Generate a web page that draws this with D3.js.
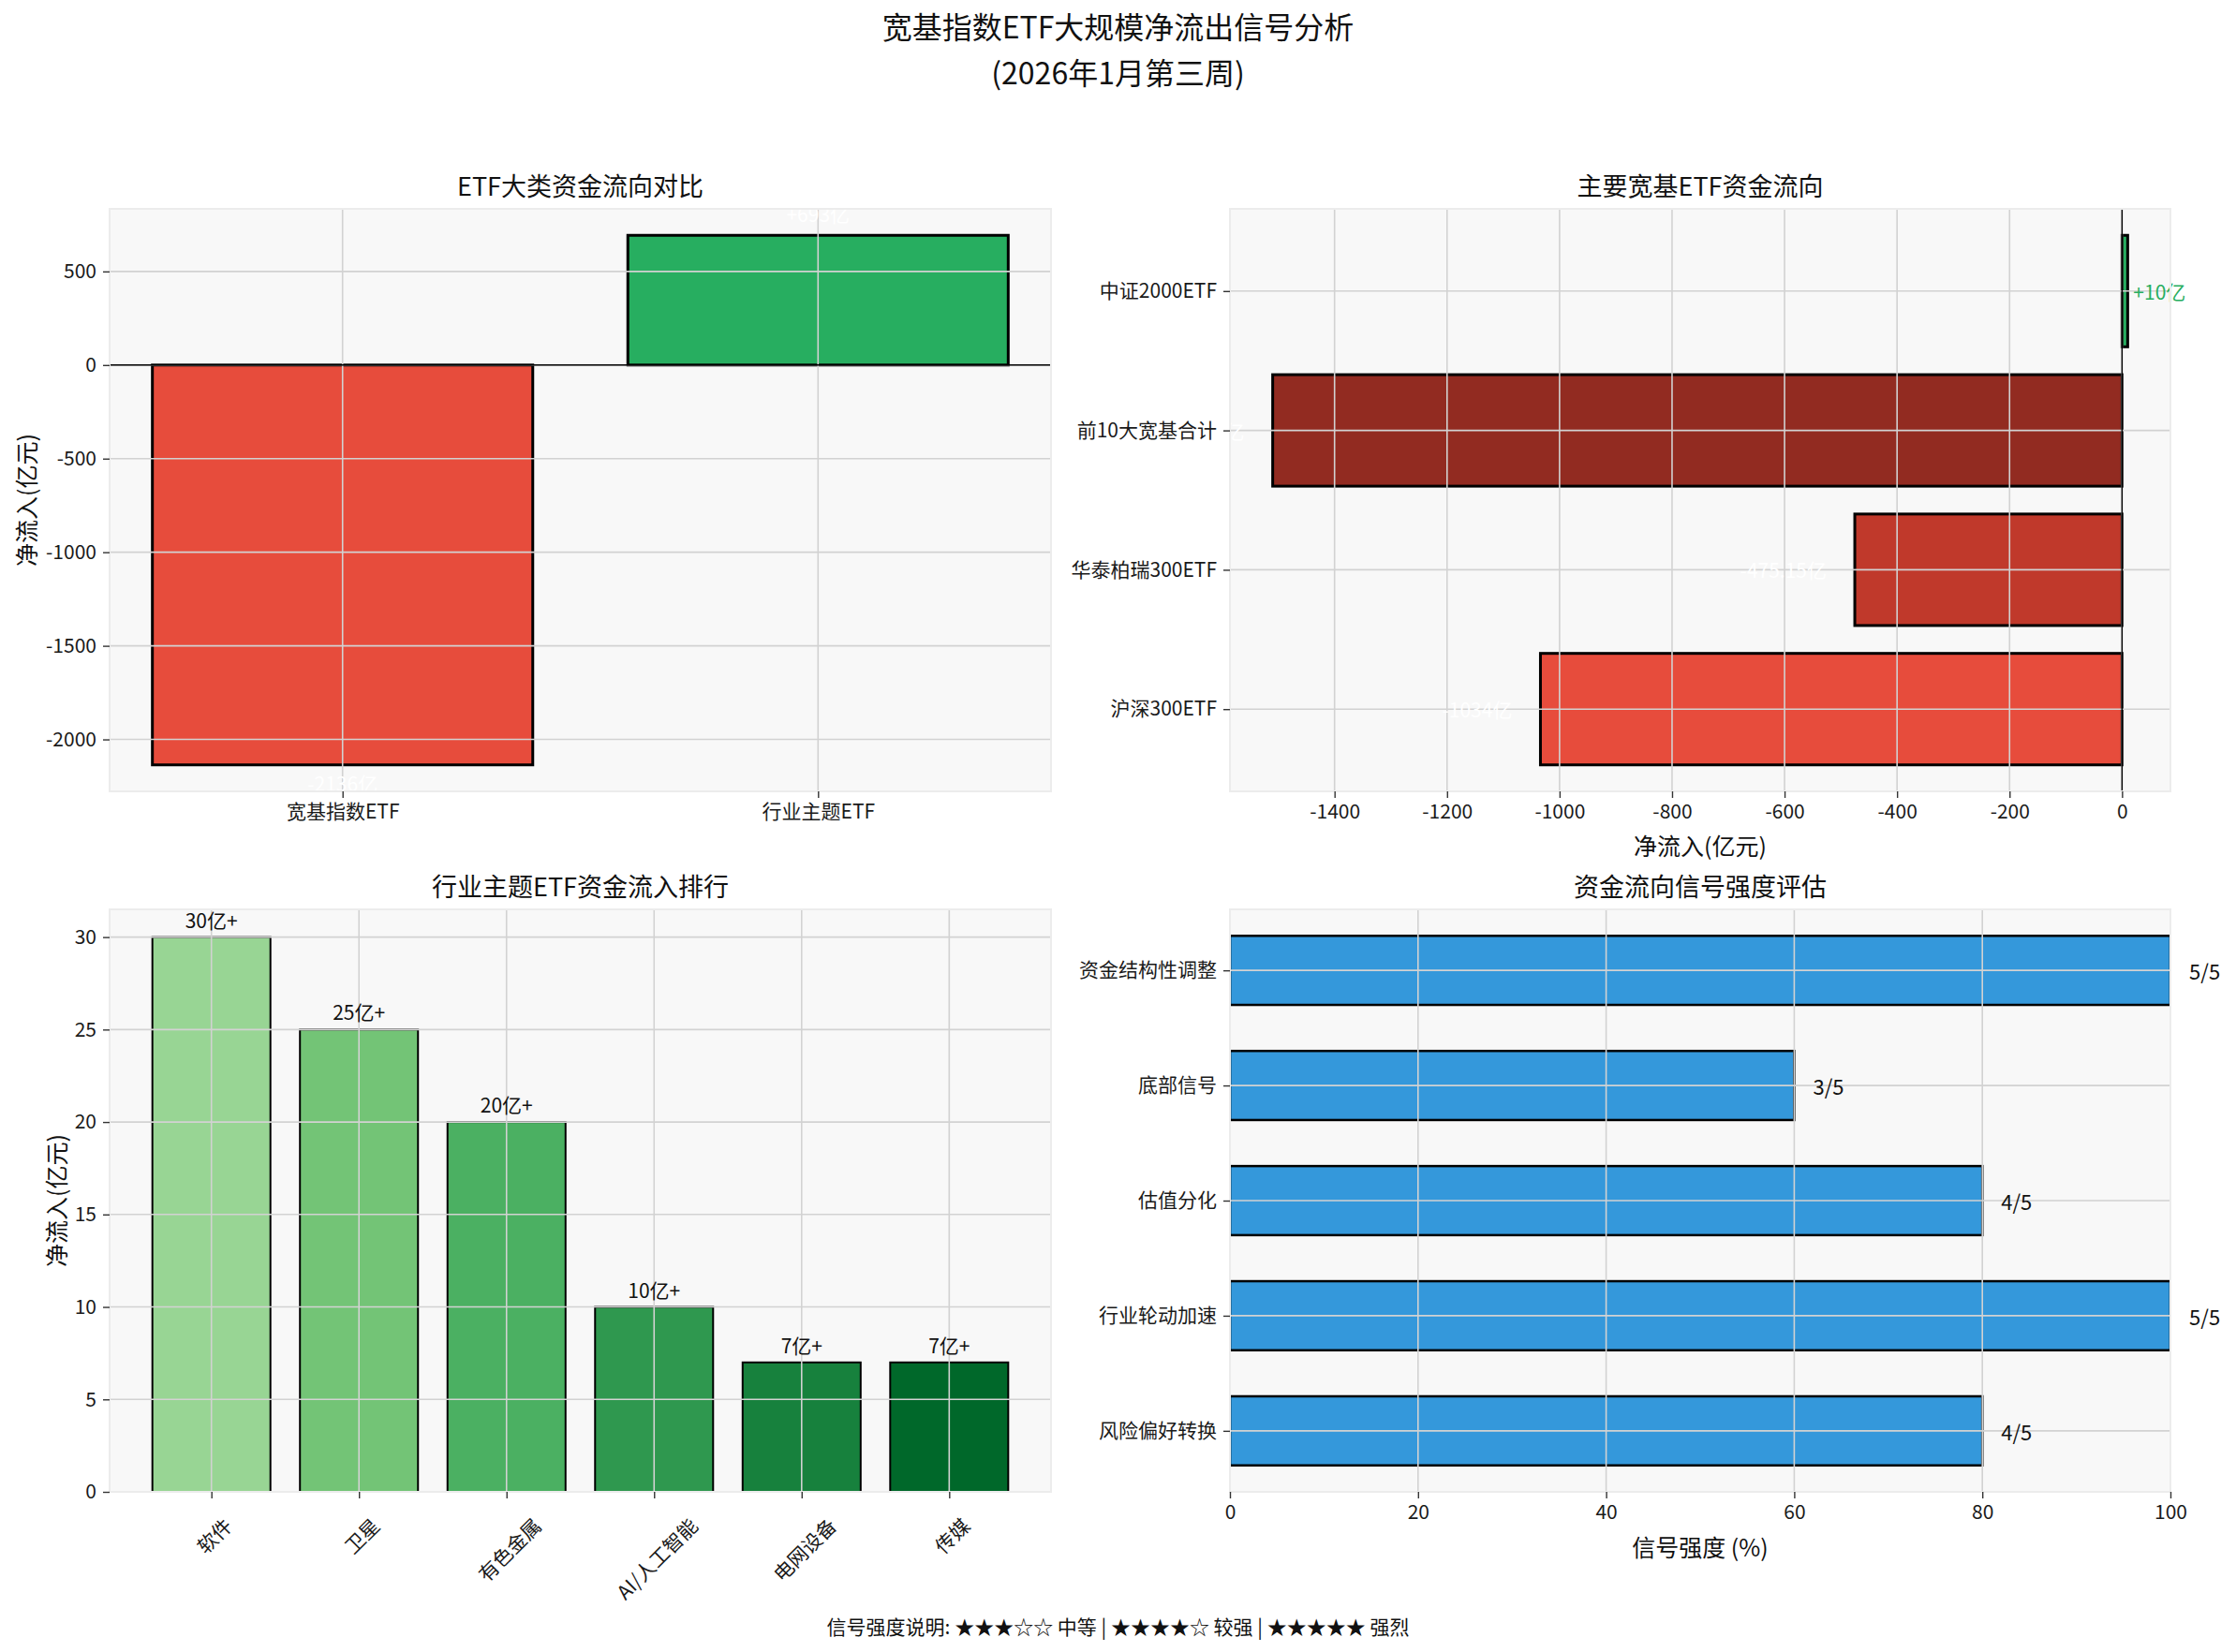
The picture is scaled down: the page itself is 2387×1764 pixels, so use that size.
<!DOCTYPE html>
<html>
<head>
<meta charset="utf-8">
<script src="https://cdn.jsdelivr.net/npm/d3@7"></script>
<style>
  html, body { margin: 0; padding: 0; background: #fff; }
  svg { display: block; font-family: "Noto Sans CJK SC", "Noto Sans", sans-serif; }
</style>
</head>
<body>
<div id="chart"></div>
<script>
// --- data ---
const mainCats= ['宽基指数ETF', '行业主题ETF'];
const mainFlow= [-2136, 693];
const mainLabels= ['-2136亿', '+693亿'];
const mainColors= ['#e74c3c', '#27ae60'];
const mainTicks= [-2000, -1500, -1000, -500, 0, 500];

const etfNames= ['沪深300ETF', '华泰柏瑞300ETF', '前10大宽基合计', '中证2000ETF'];
const etfFlow= [-1034, -475.15, -1510, 10];
const etfLabels= ['-1034亿', '-475.15亿', '-1510亿', '+10亿'];
const etfColors= ['#e74c3c', '#c0392b', '#922b21', '#27ae60'];
const etfTicks= [-1400, -1200, -1000, -800, -600, -400, -200, 0];

const sectors= ['软件', '卫星', '有色金属', 'AI/人工智能', '电网设备', '传媒'];
const sectorFlow= [30, 25, 20, 10, 7, 7];
const sectorLabels= ['30亿+', '25亿+', '20亿+', '10亿+', '7亿+', '7亿+'];
const sectorColors= ['#98d594', '#73c476', '#4bb062', '#2f984f', '#17813d', '#00682a'];
const sectorTicks= [0, 5, 10, 15, 20, 25, 30];

const signals= ['风险偏好转换', '行业轮动加速', '估值分化', '底部信号', '资金结构性调整'];
const signalPct= [80, 100, 80, 60, 100];
const signalLabels= ['4/5', '5/5', '4/5', '3/5', '5/5'];
const signalTicks= [0, 20, 40, 60, 80, 100];

const W= 2387, H= 1764;
const FONT_TICK= 21, FONT_LAB= 25, FONT_TITLE= 27;
const GRID= '#d2d2d2';

const svg= d3.select('#chart').append('svg')
  .attr('width', W).attr('height', H)
  .attr('viewBox', `0 0 ${W} ${H}`);

svg.append('rect').attr('width', W).attr('height', H).attr('fill', '#fff');

let clipN= 0;
function panel(x0, y0, w, h, title) {
  const g= svg.append('g').attr('transform', `translate(${x0},${y0})`);
  const id= 'clip' + (clipN++);
  g.append('clipPath').attr('id', id).append('rect').attr('width', w).attr('height', h);
  g.append('rect').attr('width', w).attr('height', h).attr('fill', '#f8f8f8');
  const body= g.append('g').attr('clip-path', `url(#${id})`);
  g.append('text')
    .attr('x', w/2).attr('y', -14)
    .attr('text-anchor', 'middle')
    .attr('font-size', FONT_TITLE)
    .attr('fill', '#111')
    .text(title);
  return { g, body, w, h };
}

function frame(p) {
  p.g.append('rect').attr('width', p.w).attr('height', p.h)
    .attr('fill', 'none').attr('stroke', '#ececec').attr('stroke-width', 2);
}

function gridX(p, xs, vals) {
  p.body.selectAll(null).data(vals).join('line')
    .attr('x1', d => xs(d)).attr('x2', d => xs(d))
    .attr('y1', 0).attr('y2', p.h)
    .attr('stroke', GRID).attr('stroke-width', 1.6);
}
function gridY(p, ys, vals) {
  p.body.selectAll(null).data(vals).join('line')
    .attr('y1', d => ys(d)).attr('y2', d => ys(d))
    .attr('x1', 0).attr('x2', p.w)
    .attr('stroke', GRID).attr('stroke-width', 1.6);
}

function styleAxis(sel) {
  sel.select('.domain').remove();
  sel.selectAll('.tick line').attr('stroke', '#333').attr('stroke-width', 1.4);
  sel.selectAll('.tick text')
    .attr('font-size', FONT_TICK)
    .attr('fill', '#1a1a1a')
    .attr('font-family', '"Noto Sans CJK SC", sans-serif');
}

function padDomain(vals) {
  const [lo, hi]= d3.extent(vals);
  const m= (hi-lo)*0.05;
  return [lo-m, hi+m];
}

const fmt= d => String(d);

// ---------- panel 1: ETF大类资金流向对比 ----------
{
  const p= panel(117, 223, 1005, 622, 'ETF大类资金流向对比');
  const idx= d3.range(mainCats.length);
  const x= d3.scaleLinear().domain(padDomain([-0.4, mainCats.length-1+0.4])).range([0, p.w]);
  const y= d3.scaleLinear().domain(padDomain([...mainFlow, 0])).range([p.h, 0]);

  p.body.selectAll('rect.bar').data(idx).join('rect')
    .attr('class', 'bar')
    .attr('x', i => x(i-0.4))
    .attr('width', i => x(i+0.4)-x(i-0.4))
    .attr('y', i => y(Math.max(0, mainFlow[i])))
    .attr('height', i => Math.abs(y(mainFlow[i])-y(0)))
    .attr('fill', i => mainColors[i])
    .attr('stroke', '#000').attr('stroke-width', 3);

  gridX(p, x, idx);
  gridY(p, y, mainTicks);

  p.body.append('line')
    .attr('x1', 0).attr('x2', p.w).attr('y1', y(0)).attr('y2', y(0))
    .attr('stroke', '#000').attr('stroke-width', 1.4);

  p.g.selectAll('text.val').data(idx).join('text')
    .attr('class', 'val')
    .attr('x', i => x(i))
    .attr('y', i => mainFlow[i] >= 0 ? y(mainFlow[i]+50)-4 : y(mainFlow[i]-50)+18)
    .attr('text-anchor', 'middle')
    .attr('font-size', FONT_TICK)
    .attr('fill', '#fff')
    .text(i => mainLabels[i]);

  frame(p);

  p.g.append('g').call(d3.axisLeft(y).tickValues(mainTicks).tickFormat(fmt).tickSize(7).tickPadding(7))
    .call(styleAxis);
  p.g.append('g').attr('transform', `translate(0,${p.h})`)
    .call(d3.axisBottom(x).tickValues(idx).tickFormat(i => mainCats[i]).tickSize(7).tickPadding(7))
    .call(styleAxis);

  p.g.append('text')
    .attr('transform', `translate(${27-117},${p.h/2}) rotate(-90)`)
    .attr('text-anchor', 'middle').attr('dominant-baseline', 'central')
    .attr('font-size', FONT_LAB).attr('fill', '#111')
    .text('净流入(亿元)');
}

// ---------- panel 2: 主要宽基ETF资金流向 ----------
{
  const p= panel(1313, 223, 1004, 622, '主要宽基ETF资金流向');
  const idx= d3.range(etfNames.length);
  const x= d3.scaleLinear().domain(padDomain([...etfFlow, 0])).range([0, p.w]);
  const y= d3.scaleLinear().domain(padDomain([-0.4, etfNames.length-1+0.4])).range([p.h, 0]);

  p.body.selectAll('rect.bar').data(idx).join('rect')
    .attr('class', 'bar')
    .attr('y', i => y(i+0.4))
    .attr('height', i => y(i-0.4)-y(i+0.4))
    .attr('x', i => x(Math.min(0, etfFlow[i])))
    .attr('width', i => Math.abs(x(etfFlow[i])-x(0)))
    .attr('fill', i => etfColors[i])
    .attr('stroke', '#000').attr('stroke-width', 3);

  gridX(p, x, etfTicks);
  gridY(p, y, idx);

  p.body.append('line')
    .attr('y1', 0).attr('y2', p.h).attr('x1', x(0)).attr('x2', x(0))
    .attr('stroke', '#000').attr('stroke-width', 1.4);

  p.g.selectAll('text.val').data(idx).join('text')
    .attr('class', 'val')
    .attr('x', i => etfFlow[i] >= 0 ? x(etfFlow[i]+10) : x(etfFlow[i]-50))
    .attr('y', i => y(i))
    .attr('text-anchor', i => etfFlow[i] >= 0 ? 'start' : 'end')
    .attr('dominant-baseline', 'central')
    .attr('font-size', FONT_TICK)
    .attr('fill', i => etfFlow[i] >= 0 ? '#27ae60' : '#fff')
    .text(i => etfLabels[i]);

  frame(p);

  p.g.append('g').call(d3.axisLeft(y).tickValues(idx).tickFormat(i => etfNames[i]).tickSize(7).tickPadding(7))
    .call(styleAxis);
  p.g.append('g').attr('transform', `translate(0,${p.h})`)
    .call(d3.axisBottom(x).tickValues(etfTicks).tickFormat(fmt).tickSize(7).tickPadding(7))
    .call(styleAxis);

  p.g.append('text')
    .attr('x', p.w/2).attr('y', p.h+57)
    .attr('text-anchor', 'middle').attr('dominant-baseline', 'central')
    .attr('font-size', FONT_LAB).attr('fill', '#111')
    .text('净流入(亿元)');
}

// ---------- panel 3: 行业主题ETF资金流入排行 ----------
{
  const p= panel(117, 971, 1005, 622, '行业主题ETF资金流入排行');
  const idx= d3.range(sectors.length);
  const x= d3.scaleLinear().domain(padDomain([-0.4, sectors.length-1+0.4])).range([0, p.w]);
  const y= d3.scaleLinear().domain([0, d3.max(sectorFlow)*1.05]).range([p.h, 0]);

  p.body.selectAll('rect.bar').data(idx).join('rect')
    .attr('class', 'bar')
    .attr('x', i => x(i-0.4))
    .attr('width', i => x(i+0.4)-x(i-0.4))
    .attr('y', i => y(sectorFlow[i]))
    .attr('height', i => y(0)-y(sectorFlow[i]))
    .attr('fill', i => sectorColors[i])
    .attr('stroke', '#000').attr('stroke-width', 2);

  gridX(p, x, idx);
  gridY(p, y, sectorTicks);

  p.g.selectAll('text.val').data(idx).join('text')
    .attr('class', 'val')
    .attr('x', i => x(i))
    .attr('y', i => y(sectorFlow[i]+0.5))
    .attr('text-anchor', 'middle')
    .attr('font-size', FONT_TICK)
    .attr('fill', '#111')
    .text(i => sectorLabels[i]);

  frame(p);

  p.g.append('g').call(d3.axisLeft(y).tickValues(sectorTicks).tickFormat(fmt).tickSize(7).tickPadding(7))
    .call(styleAxis);

  const ax= p.g.append('g').attr('transform', `translate(0,${p.h})`)
    .call(d3.axisBottom(x).tickValues(idx).tickFormat(i => sectors[i]).tickSize(7).tickPadding(7))
    .call(styleAxis);
  // rotate 45deg, bounding box centred on the tick
  ax.selectAll('.tick text').each(function() {
    const t= d3.select(this);
    const L= this.getComputedTextLength();
    const bh= (L+FONT_TICK)*Math.SQRT1_2;
    t.attr('y', null).attr('dy', null)
      .attr('text-anchor', 'middle')
      .attr('dominant-baseline', 'central')
      .attr('transform', `translate(2,${24+bh/2}) rotate(-45)`);
  });

  p.g.append('text')
    .attr('transform', `translate(${59-117},${p.h/2}) rotate(-90)`)
    .attr('text-anchor', 'middle').attr('dominant-baseline', 'central')
    .attr('font-size', FONT_LAB).attr('fill', '#111')
    .text('净流入(亿元)');
}

// ---------- panel 4: 资金流向信号强度评估 ----------
{
  const p= panel(1313, 971, 1004, 622, '资金流向信号强度评估');
  const idx= d3.range(signals.length);
  const x= d3.scaleLinear().domain([0, 100]).range([0, p.w]);
  const y= d3.scaleLinear().domain(padDomain([-0.3, signals.length-1+0.3])).range([p.h, 0]);

  p.body.selectAll('rect.bar').data(idx).join('rect')
    .attr('class', 'bar')
    .attr('y', i => y(i+0.3))
    .attr('height', i => y(i-0.3)-y(i+0.3))
    .attr('x', x(0))
    .attr('width', i => x(signalPct[i])-x(0))
    .attr('fill', '#3498db')
    .attr('stroke', '#000').attr('stroke-width', 2.5);

  gridX(p, x, signalTicks);
  gridY(p, y, idx);

  p.g.selectAll('text.val').data(idx).join('text')
    .attr('class', 'val')
    .attr('x', i => x(signalPct[i]+2))
    .attr('y', i => y(i))
    .attr('text-anchor', 'start')
    .attr('dominant-baseline', 'central')
    .attr('font-size', 22)
    .attr('fill', '#111')
    .text(i => signalLabels[i]);

  frame(p);

  p.g.append('g').call(d3.axisLeft(y).tickValues(idx).tickFormat(i => signals[i]).tickSize(7).tickPadding(7))
    .call(styleAxis);
  p.g.append('g').attr('transform', `translate(0,${p.h})`)
    .call(d3.axisBottom(x).tickValues(signalTicks).tickFormat(fmt).tickSize(7).tickPadding(7))
    .call(styleAxis);

  p.g.append('text')
    .attr('x', p.w/2).attr('y', p.h+58)
    .attr('text-anchor', 'middle').attr('dominant-baseline', 'central')
    .attr('font-size', FONT_LAB).attr('fill', '#111')
    .text('信号强度 (%)');
}

// ---------- titles ----------
svg.append('text')
  .attr('x', W/2).attr('y', 27)
  .attr('text-anchor', 'middle').attr('dominant-baseline', 'central')
  .attr('font-size', 32).attr('fill', '#111')
  .text('宽基指数ETF大规模净流出信号分析');
svg.append('text')
  .attr('x', W/2).attr('y', 76)
  .attr('text-anchor', 'middle').attr('dominant-baseline', 'central')
  .attr('font-size', 32).attr('fill', '#111')
  .text('(2026年1月第三周)');

svg.append('text')
  .attr('x', W/2).attr('y', 1736)
  .attr('text-anchor', 'middle').attr('dominant-baseline', 'central')
  .attr('font-size', FONT_TICK).attr('fill', '#111')
  .text('信号强度说明: ★★★☆☆ 中等 | ★★★★☆ 较强 | ★★★★★ 强烈');
</script>
</body>
</html>
